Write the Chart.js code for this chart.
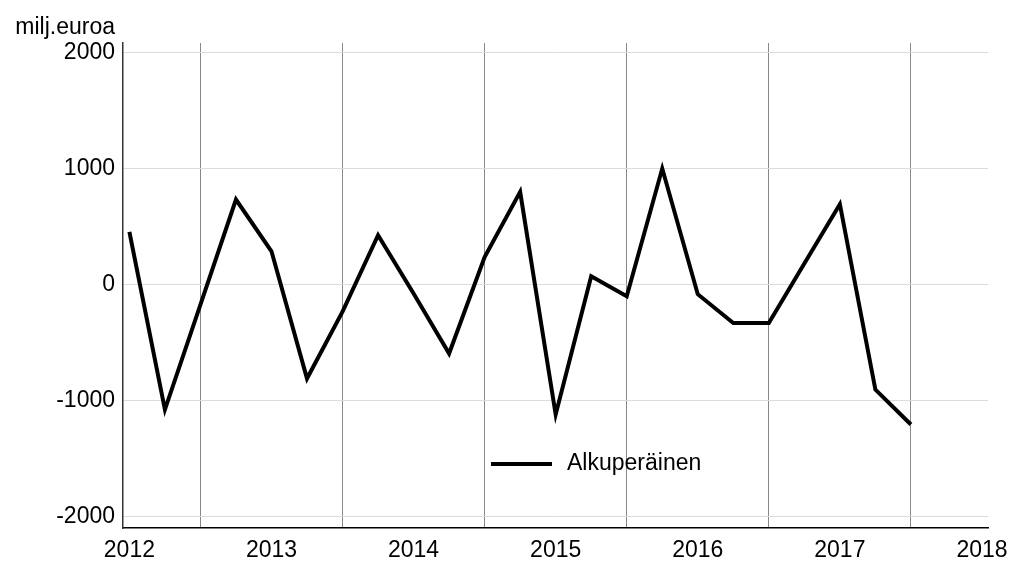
<!DOCTYPE html>
<html>
<head>
<meta charset="utf-8">
<script src="https://cdn.jsdelivr.net/npm/chart.js@4.4.1/dist/chart.umd.min.js"></script>
<style>
  html, body { margin: 0; padding: 0; background: #fff; }
  #wrap { width: 1013px; height: 562px; }
</style>
</head>
<body>
<div id="wrap"><canvas id="chart" width="1013" height="562"></canvas></div>
<script>
// quarterly values, Q1 2012 .. Q3 2017 (x = quarter index)
const quarters = [0, 1, 2, 3, 4, 5, 6, 7, 8, 9, 10, 11, 12, 13, 14, 15, 16, 17, 18, 19, 20, 21, 22];
const alkuperainen = [457, -1074, -170, 736, 290, -807, -230, 428, -74, -591, 241, 802,
                      -1117, 75, -97, 1003, -80, -328, -328, 185, 696, -902, -1203];
const yearLabels = ['2012', '2013', '2014', '2015', '2016', '2017', '2018'];
const yTicks = [-2000, -1000, 0, 1000, 2000];
const unitLabel = 'milj.euroa';
const seriesLabel = 'Alkuperäinen';

const FONT = "'Liberation Sans', Arial, sans-serif";
const FSIZE = 23;

// otsikko ja selite piirretään käsin
const extras = {
    id: 'extras',
    afterDraw(chart) {
        const c = chart.ctx;
        const area = chart.chartArea;
        const y = chart.scales.y;
        c.save();
        c.fillStyle = '#000';
        c.font = `${FSIZE}px ${FONT}`;
        c.textAlign = 'right';
        c.textBaseline = 'middle';
        c.fillText(unitLabel, y.right - 8, 28);

        // selite
        const lx = area.left + 368;
        const ly = area.bottom - 64;
        c.strokeStyle = '#000';
        c.lineWidth = 4;
        c.beginPath();
        c.moveTo(lx, ly);
        c.lineTo(lx + 61, ly);
        c.stroke();
        c.textAlign = 'left';
        c.fillText(seriesLabel, lx + 76, ly);
        c.restore();
    }
};

new Chart(document.getElementById('chart'), {
    type: 'line',
    data: {
        datasets: [{
            label: seriesLabel,
            data: quarters.map((q, i) => ({ x: q, y: alkuperainen[i] })),
            borderColor: '#000',
            borderWidth: 4,
            pointRadius: 0,
            tension: 0,
            fill: false
        }]
    },
    options: {
        responsive: false,
        animation: false,
        layout: { padding: { top: 43, right: 25, left: 0, bottom: 0 } },
        plugins: {
            legend: { display: false },
            title: { display: false },
            tooltip: { enabled: false }
        },
        scales: {
            x: {
                type: 'linear',
                min: -0.18,
                max: 24.17,
                afterBuildTicks: (scale) => {
                    const t = [];
                    for (let v = 0; v <= 24; v += 2) t.push({ value: v });
                    scale.ticks = t;
                },
                afterFit: (scale) => {
                    scale.height = 34;
                    scale.paddingLeft = 0;
                    scale.paddingRight = 0;
                },
                grid: {
                    drawTicks: false,
                    color: (ctx) => (ctx.tick && ctx.tick.value % 4 === 2) ? '#888' : 'rgba(0,0,0,0)',
                    lineWidth: 1
                },
                border: { display: true, color: '#000', width: 1.5 },
                ticks: {
                    autoSkip: false,
                    maxRotation: 0,
                    padding: 9,
                    color: '#000',
                    font: { family: FONT, size: FSIZE },
                    callback: (v) => (v % 4 === 0) ? yearLabels[v / 4] : ''
                }
            },
            y: {
                min: -2095,
                max: 2085,
                afterBuildTicks: (scale) => {
                    scale.ticks = yTicks.map(v => ({ value: v }));
                },
                afterFit: (scale) => {
                    scale.width = 123;
                    scale.paddingTop = 0;
                    scale.paddingBottom = 0;
                },
                grid: {
                    drawTicks: false,
                    color: '#dcdcdc',
                    lineWidth: 1
                },
                border: { display: true, color: '#333', width: 1.5 },
                ticks: {
                    padding: 8,
                    color: '#000',
                    font: { family: FONT, size: FSIZE },
                    callback: (v) => String(v)
                }
            }
        }
    },
    plugins: [extras]
});
</script>
</body>
</html>
